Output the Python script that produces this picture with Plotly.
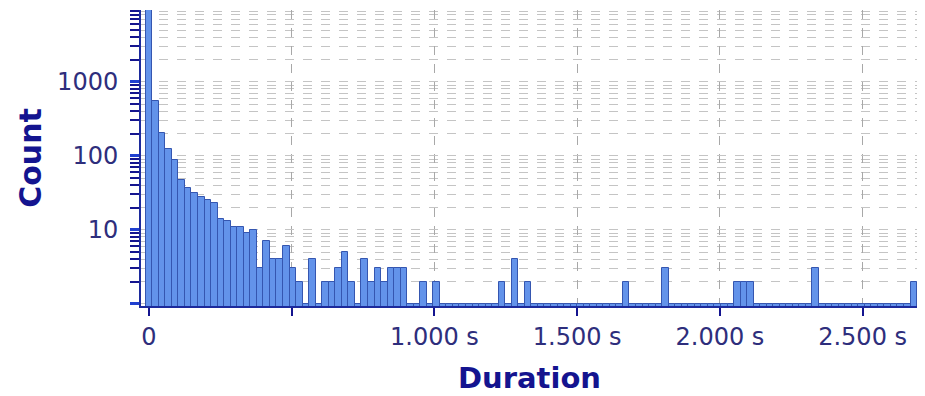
import plotly.graph_objects as go

# Histogram of durations (seconds); bin width
bin_width_s = 0.0229
counts = [
    9800, 550, 205, 124, 87, 47, 37, 31, 28, 25,
    23, 14, 13, 11, 11, 9, 10, 3, 7, 4,
    4, 6, 3, 2, 1, 4, 1, 2, 2, 3,
    5, 2, 1, 4, 2, 3, 2, 3, 3, 3,
    1, 1, 2, 1, 2, 1, 1, 1, 1, 1,
    1, 1, 1, 1, 2, 1, 4, 1, 2, 1,
    1, 1, 1, 1, 1, 1, 1, 1, 1, 1,
    1, 1, 1, 2, 1, 1, 1, 1, 1, 3,
    1, 1, 1, 1, 1, 1, 1, 1, 1, 1,
    2, 2, 2, 1, 1, 1, 1, 1, 1, 1,
    1, 1, 3, 1, 1, 1, 1, 1, 1, 1,
    1, 1, 1, 1, 1, 1, 1, 2,
]
bin_centers = [i * bin_width_s for i in range(len(counts))]

x_tick_vals = [0, 0.5, 1.0, 1.5, 2.0, 2.5]
x_tick_text = ["0", "", "1.000 s", "1.500 s", "2.000 s", "2.500 s"]
y_tick_vals = [1, 10, 100, 1000, 10000]
y_tick_text = ["", "10", "100", "1000", ""]
y_minor_vals = [m * 10 ** d for d in range(0, 4) for m in range(2, 10)]

FONT = "DejaVu Sans"
NAVY = "#14148f"
TICKTXT = "#2e2e7c"

fig = go.Figure(
    go.Bar(
        x=bin_centers,
        y=counts,
        width=bin_width_s,
        marker=dict(color="#6393ea", line=dict(color="#3556b0", width=1)),
    )
)

# page body has an 8px margin, so the figure is sized to fill the rest
fig.update_layout(
    width=917,
    height=388,
    margin=dict(l=133, r=7, t=2, b=90),
    paper_bgcolor="white",
    plot_bgcolor="white",
    bargap=0,
    showlegend=False,
    font=dict(family=FONT, color=TICKTXT),
)

fig.update_xaxes(
    range=[-0.028, 2.694],
    automargin=False,
    tickvals=x_tick_vals,
    ticktext=x_tick_text,
    tickfont=dict(size=24, color=TICKTXT, family=FONT),
    ticks="outside",
    ticklen=8,
    tickwidth=2,
    tickcolor=NAVY,
    showline=True,
    linecolor="#1c2a9c",
    linewidth=2,
    showgrid=True,
    gridcolor="#a8a8a8",
    griddash="dash",
    gridwidth=1,
    zeroline=False,
    title=dict(text="<b>Duration</b>", font=dict(size=29, color=NAVY, family=FONT), standoff=18),
)

fig.update_yaxes(
    type="log",
    range=[-0.03, 3.97],
    automargin=False,
    tickvals=y_tick_vals,
    ticktext=y_tick_text,
    tickfont=dict(size=24, color=TICKTXT, family=FONT),
    ticklabelstandoff=7,
    ticks="outside",
    ticklen=9,
    tickwidth=3,
    tickcolor="#2040d0",
    showline=True,
    linecolor="#1c2a9c",
    linewidth=2,
    showgrid=True,
    gridcolor="#c4c4c4",
    griddash="dash",
    gridwidth=1,
    zeroline=False,
    minor=dict(
        tickvals=y_minor_vals,
        ticks="outside",
        ticklen=9,
        tickwidth=2,
        tickcolor=NAVY,
        showgrid=True,
        gridcolor="#c4c4c4",
        griddash="dash",
        gridwidth=1,
    ),
    title=dict(text="<b>Count</b>", font=dict(size=30, color=NAVY, family=FONT), standoff=7),
)

fig.write_html("out.html")
